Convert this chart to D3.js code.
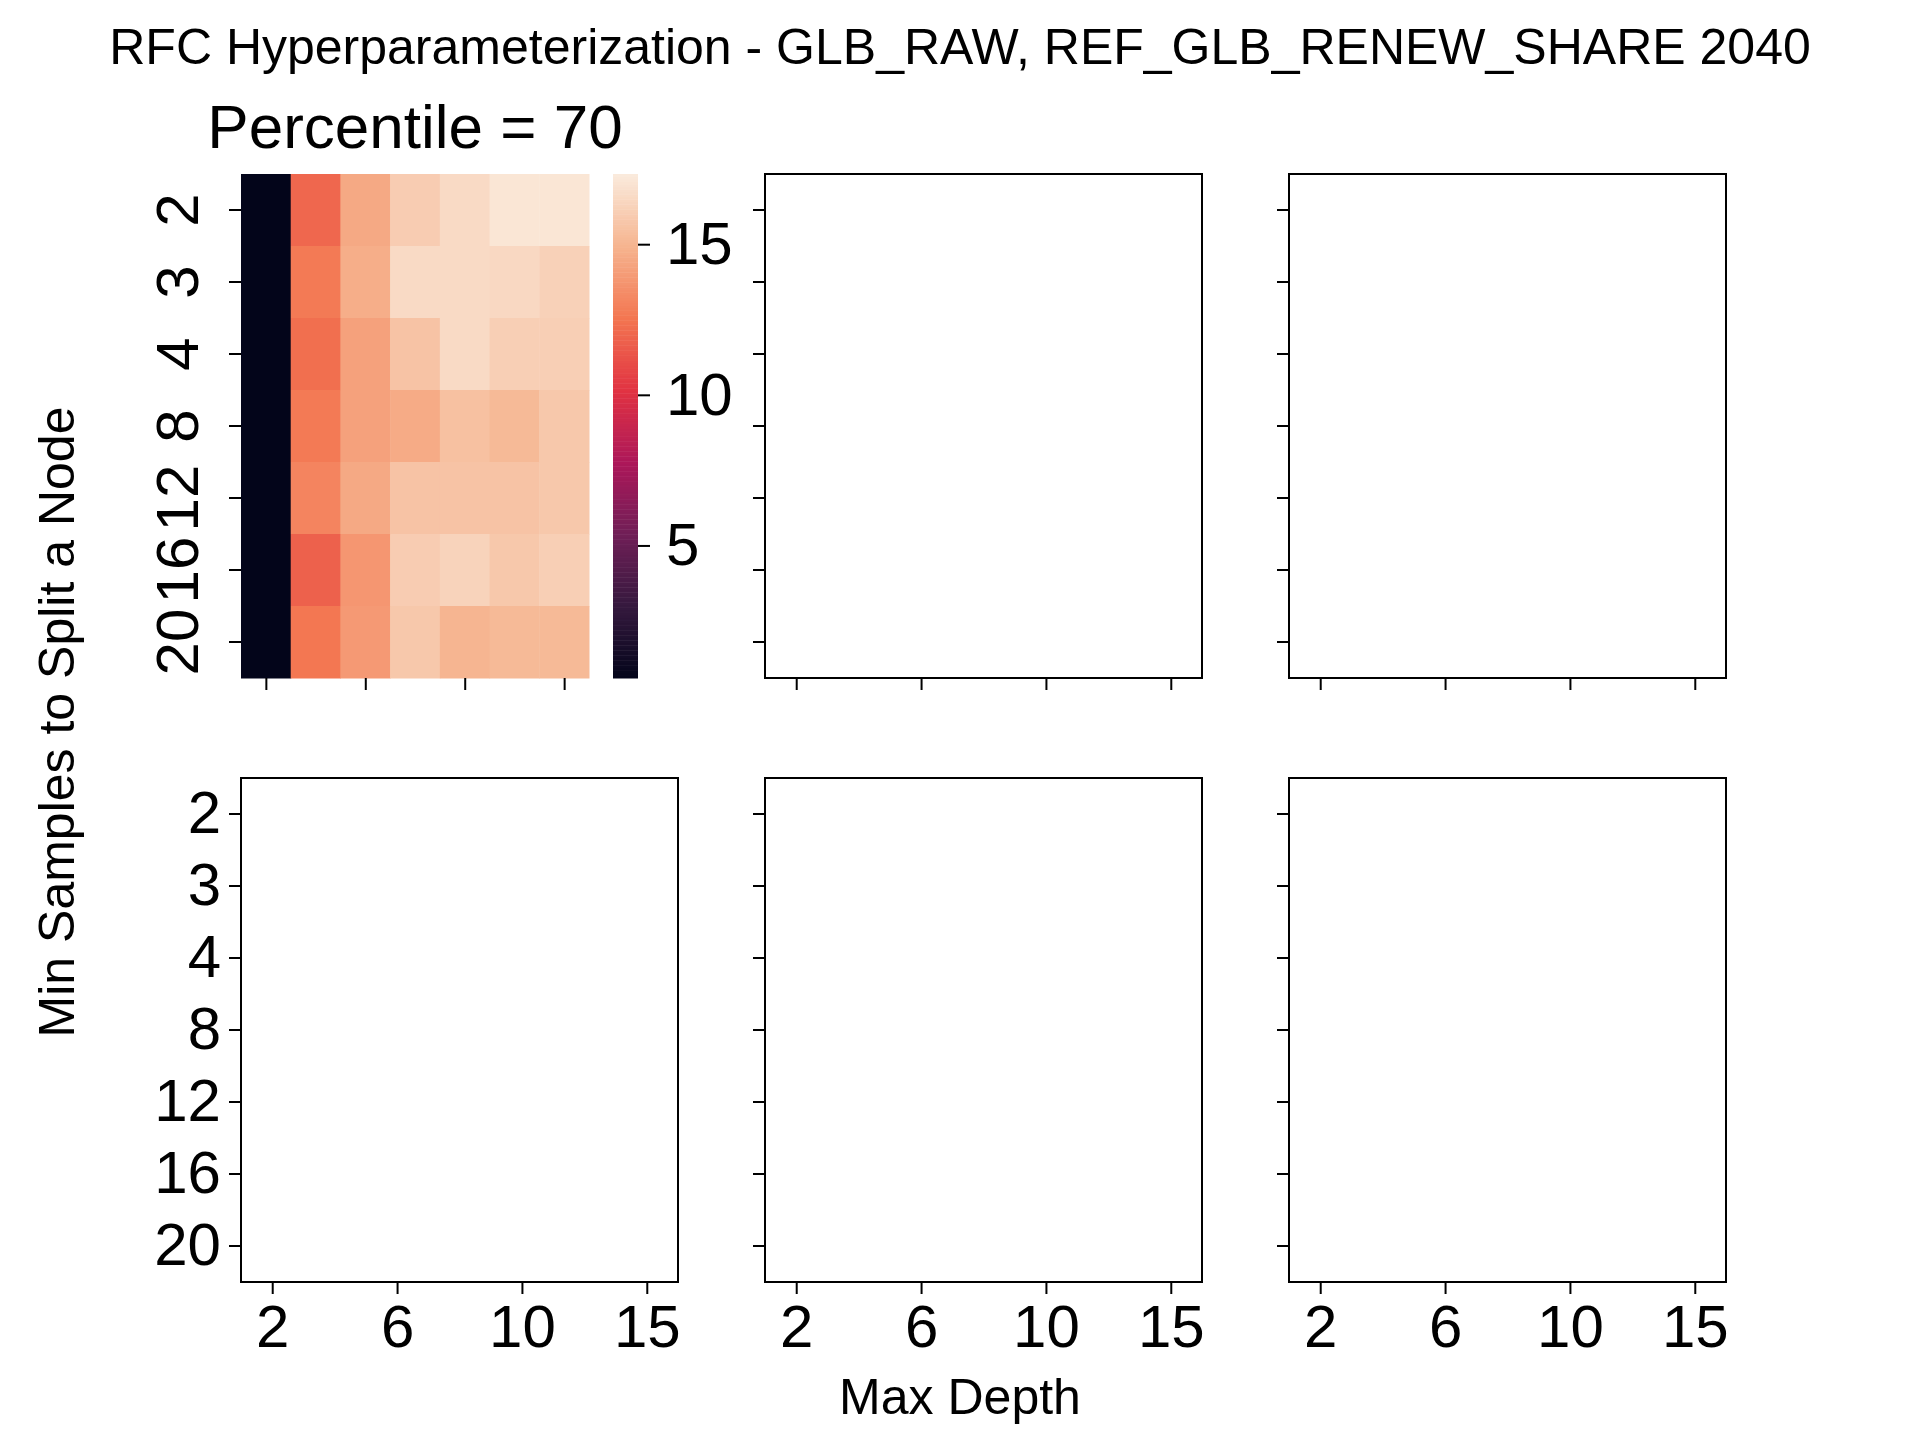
<!DOCTYPE html>
<html>
<head>
<meta charset="utf-8">
<script src="https://cdn.jsdelivr.net/npm/d3@7"></script>
<style>
  body { margin: 0; background: #fff; }
  text { font-family: "Liberation Sans", Arial, sans-serif; fill: #000; }
</style>
</head>
<body>
<svg id="chart" width="1920" height="1440"></svg>
<script>
const depths = ["2", "4", "6", "8", "10", "12", "15"]
const depthTicks = ["2", "6", "10", "15"]
const splits = ["2", "3", "4", "8", "12", "16", "20"]
// percentile 70 values, one row per min samples split
const values = [
  [0.6, 12.0, 14.5, 16.0, 16.6, 17.1, 17.1],
  [0.6, 12.7, 14.7, 16.6, 16.6, 16.5, 16.2],
  [0.6, 12.3, 14.2, 15.6, 16.6, 16.1, 16.1],
  [0.6, 12.7, 14.2, 14.6, 15.5, 15.2, 15.8],
  [0.6, 13.1, 14.5, 15.6, 15.6, 15.6, 15.8],
  [0.6, 11.8, 13.8, 16.0, 16.3, 15.8, 16.1],
  [0.6, 12.6, 13.9, 15.8, 15.0, 15.2, 15.2]
]
const cbarTicks = [5, 10, 15]
const rocket = ["#03051A", "#35193e", "#701f57", "#ad1759", "#e13342", "#f37651", "#f6b48f", "#faebdd"]

const svg = d3.select("#chart")
const tickFont = 60
const lw = 2

const color = d3.scaleLinear()
  .domain(d3.range(rocket.length).map(i => 0.6 + (17.33 - 0.6) * i / (rocket.length - 1)))
  .range(rocket)
  .interpolate(d3.interpolateRgb)

svg.append("text").attr("x", 960).attr("y", 64).attr("text-anchor", "middle")
  .attr("font-size", 50).text("RFC Hyperparameterization - GLB_RAW, REF_GLB_RENEW_SHARE 2040")

const cols = [241, 765, 1289]
const rows = [174, 778]
const axW = 437, axH = 504

const xIdx = depthTicks.map(t => depths.indexOf(t) + 0.5)

function panel(x0, y0, opts) {
  const w = opts.width || axW
  const g = svg.append("g").attr("transform", `translate(${x0},${y0})`)
  const x = d3.scaleLinear().domain([0, depths.length]).range([0, w])
  const y = d3.scaleBand().domain(splits).range([0, axH])
  if (opts.heat) {
    values.forEach((row, r) => row.forEach((v, c) => {
      g.append("rect").attr("x", x(c)).attr("y", y(splits[r]))
        .attr("width", x(c + 1) - x(c) + 0.5).attr("height", y.bandwidth() + 0.5)
        .attr("fill", color(v))
    }))
  } else {
    g.append("rect").attr("width", w).attr("height", axH)
      .attr("fill", "none").attr("stroke", "#000").attr("stroke-width", lw)
  }
  const xa = g.append("g").attr("transform", `translate(0,${axH})`)
    .call(d3.axisBottom(x).tickValues(xIdx).tickSize(12).tickPadding(10)
      .tickFormat((d, i) => opts.xlabels ? depthTicks[i] : ""))
  const ya = g.append("g")
    .call(d3.axisLeft(y).tickSize(12).tickPadding(8)
      .tickFormat(d => opts.ylabels ? d : ""))
  ;[xa, ya].forEach(a => {
    a.select(".domain").remove()
    a.selectAll("line").attr("stroke-width", lw)
    a.selectAll("text").attr("font-size", tickFont).attr("font-family", "Liberation Sans, Arial, sans-serif")
  })
  if (opts.rotY) {
    ya.selectAll(".tick text").attr("text-anchor", "middle")
      .attr("transform", "translate(-64,0) rotate(-90)").attr("x", 0).attr("dy", "0.35em")
  }
  return g
}

const heatW = 348
panel(cols[0], rows[0], { heat: true, width: heatW, ylabels: true, rotY: true })
svg.append("text").attr("x", 415).attr("y", 148)
  .attr("text-anchor", "middle").attr("font-size", 62).text("Percentile = 70")

// colorbar
const cb = { x: 613, w: 25 }
const cy = d3.scaleLinear().domain([0.6, 17.33]).range([rows[0] + axH, rows[0]])
const cbG = svg.append("g")
d3.range(0, 200).forEach(i => {
  const v0 = 0.6 + (17.33 - 0.6) * i / 200, v1 = 0.6 + (17.33 - 0.6) * (i + 1) / 200
  cbG.append("rect").attr("x", cb.x).attr("width", cb.w)
    .attr("y", cy(v1)).attr("height", cy(v0) - cy(v1) + 0.5).attr("fill", color((v0 + v1) / 2))
})
const ca = svg.append("g").attr("transform", `translate(${cb.x + cb.w},0)`)
  .call(d3.axisRight(cy).tickValues(cbarTicks).tickSize(12).tickPadding(16))
ca.select(".domain").remove()
ca.selectAll("line").attr("stroke-width", lw)
ca.selectAll("text").attr("font-size", tickFont).attr("font-family", "Liberation Sans, Arial, sans-serif")

panel(cols[1], rows[0], {})
panel(cols[2], rows[0], {})
panel(cols[0], rows[1], { xlabels: true, ylabels: true })
panel(cols[1], rows[1], { xlabels: true })
panel(cols[2], rows[1], { xlabels: true })

svg.append("text").attr("x", 960).attr("y", 1414).attr("text-anchor", "middle")
  .attr("font-size", 50).text("Max Depth")
svg.append("text").attr("transform", "translate(74,722) rotate(-90)").attr("text-anchor", "middle")
  .attr("font-size", 50).text("Min Samples to Split a Node")
</script>
</body>
</html>
